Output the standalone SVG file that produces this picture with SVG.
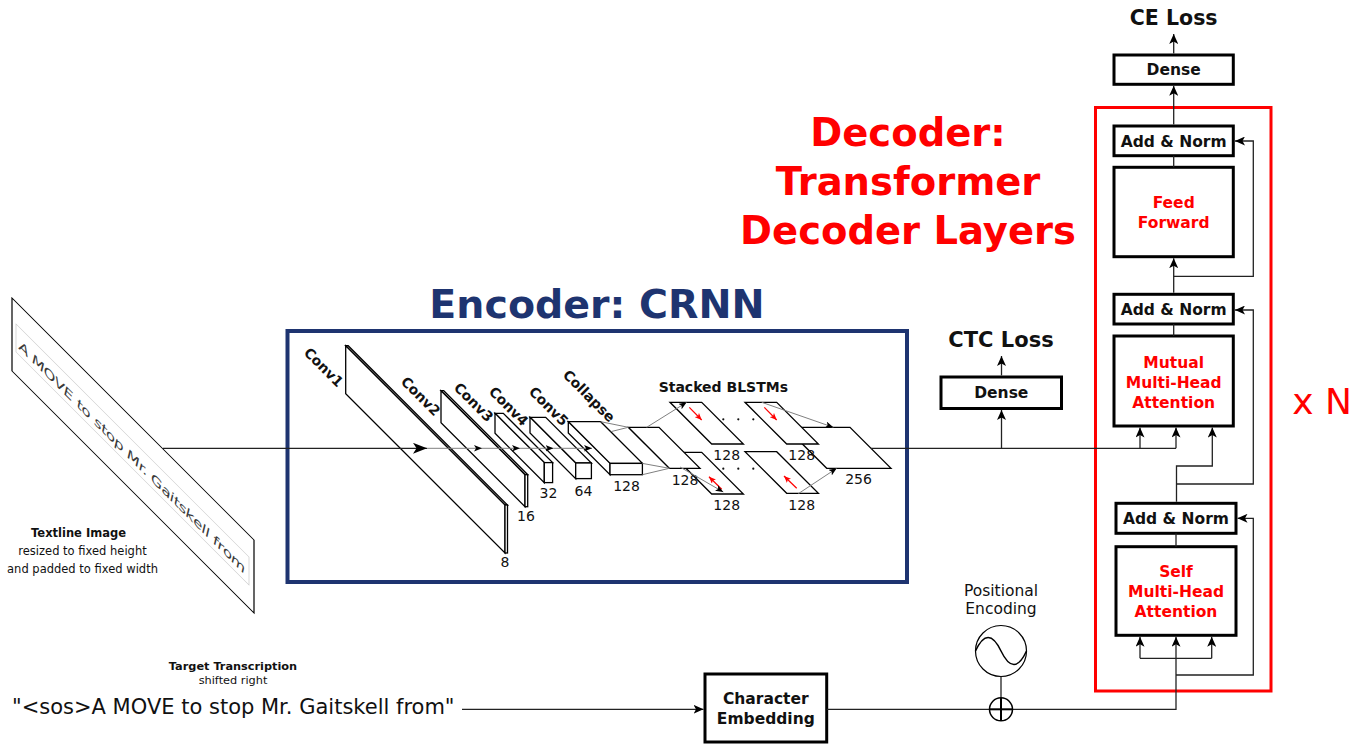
<svg xmlns="http://www.w3.org/2000/svg" width="1366" height="744" viewBox="0 0 1366 744">
<defs>
<style>
text{font-family:"DejaVu Sans","Liberation Sans",sans-serif;fill:#111}
.b{font-weight:bold}
.c{text-anchor:middle}
.box{fill:#fff;stroke:#000;stroke-width:3}
.ln{fill:none;stroke:#222;stroke-width:1.3}
.gl{fill:none;stroke:#808080;stroke-width:1}
.pg{fill:#fff;stroke:#000;stroke-width:1.3;stroke-linejoin:miter}
.num{font-size:14px;text-anchor:middle}
.cl{font-size:14px;font-weight:bold}
.bl{font-size:15.5px;font-weight:bold;text-anchor:middle}
text.red{fill:#ff0000}
.rd{fill:none;stroke:#ff0000;stroke-width:1.2}
</style>
<marker id="m" viewBox="0 0 10 9" refX="10" refY="4.5" markerWidth="10" markerHeight="9" markerUnits="userSpaceOnUse" orient="auto" preserveAspectRatio="none"><path d="M0,0 L10,4.5 L0,9 L2.5,4.5 Z" fill="#000"/></marker>
<marker id="mb" viewBox="0 0 10 9" refX="10" refY="4.5" markerWidth="14" markerHeight="11" markerUnits="userSpaceOnUse" orient="auto" preserveAspectRatio="none"><path d="M0,0 L10,4.5 L0,9 L2.5,4.5 Z" fill="#000"/></marker>
<marker id="ms" viewBox="0 0 10 9" refX="10" refY="4.5" markerWidth="8" markerHeight="6.5" markerUnits="userSpaceOnUse" orient="auto" preserveAspectRatio="none"><path d="M0,0 L10,4.5 L0,9 L2.5,4.5 Z" fill="#000"/></marker>
<marker id="mr" viewBox="0 0 10 9" refX="10" refY="4.5" markerWidth="7" markerHeight="6" markerUnits="userSpaceOnUse" orient="auto" preserveAspectRatio="none"><path d="M0,0 L10,4.5 L0,9 L2.5,4.5 Z" fill="#ff0000"/></marker>
</defs>
<rect x="0" y="0" width="1366" height="744" fill="#fff"/>

<g id="textline-image">
<g transform="translate(12,298) skewY(45)">
<rect x="0" y="0" width="242" height="73" fill="#fff" stroke="#000" stroke-width="1.2"/>
<rect x="4" y="22" width="233" height="28" fill="none" stroke="#c8c8c8" stroke-width="0.7"/>
<text x="7" y="44" font-size="14" font-style="italic" style="fill:#3a3a3a" textLength="226" lengthAdjust="spacing">A MOVE to stop Mr. Gaitskell from</text>
</g>
<text class="b c" x="78.5" y="536.5" font-size="11.5">Textline Image</text>
<text class="c" x="82.5" y="554.5" font-size="11.5" fill="#222">resized to fixed height</text>
<text class="c" x="82.5" y="572.5" font-size="11.5" fill="#222">and padded to fixed width</text>
</g>

<g id="encoder">
<rect x="287.5" y="331" width="619.5" height="251" fill="none" stroke="#1e3470" stroke-width="4"/>
<text class="b c" x="597" y="318" font-size="39.5" style="fill:#1e3470">Encoder: CRNN</text>
</g>

<g id="conv1">
<path class="pg" d="M345.7,345.7 L348.2,345.7 L507.5,505 L505,505 Z"/>
<path class="pg" d="M345.7,345.7 L505,505 L505,553 L345.7,393.7 Z"/>
<rect class="pg" x="505" y="505" width="2.5" height="48"/>
<text class="cl" transform="translate(303,353.5) rotate(45)">Conv1</text>
<text class="num" x="505" y="567">8</text>
</g>
<g id="conv2">
<path class="pg" d="M441,390.7 L443.7,390.7 L527.7,474.7 L525,474.7 Z"/>
<path class="pg" d="M441,390.7 L525,474.7 L525,506.7 L441,422.7 Z"/>
<rect class="pg" x="525" y="474.7" width="2.7" height="32"/>
<text class="cl" transform="translate(400,382.5) rotate(45)">Conv2</text>
<text class="num" x="526" y="521">16</text>
</g>
<g id="conv3">
<path class="pg" d="M495,413.3 L503.3,413.3 L552.6,462.6 L544.3,462.6 Z"/>
<path class="pg" d="M495,413.3 L544.3,462.6 L544.3,482.6 L495,433.3 Z"/>
<rect class="pg" x="544.3" y="462.6" width="8.3" height="20"/>
<text class="cl" transform="translate(453,388.5) rotate(45)">Conv3</text>
<text class="num" x="548.5" y="498">32</text>
</g>
<g id="conv4">
<path class="pg" d="M530,417.3 L545.7,417.3 L591.4,463 L575.7,463 Z"/>
<path class="pg" d="M530,417.3 L575.7,463 L575.7,478.6 L530,432.9 Z"/>
<rect class="pg" x="575.7" y="463" width="15.7" height="15.6"/>
<text class="cl" transform="translate(488,392.5) rotate(45)">Conv4</text>
<text class="num" x="583.5" y="496">64</text>
</g>
<g id="conv5">
<path class="pg" d="M568.3,421.7 L600.7,421.7 L642.4,463.4 L610,463.4 Z"/>
<path class="pg" d="M568.3,421.7 L610,463.4 L610,474.7 L568.3,433 Z"/>
<rect class="pg" x="610" y="463.4" width="32.4" height="11.3"/>
<text class="cl" transform="translate(528,392.5) rotate(45)">Conv5</text>
<text class="num" x="626.5" y="491">128</text>
</g>

<g id="blstm-out">
<path class="pg" d="M785.7,427.3 L850,427.3 L891,468.3 L826.7,468.3 Z"/>
<text class="num" x="858.5" y="484">256</text>
</g>
<g id="blstm-fwd2">
<path class="pg" d="M745,402.3 L776.7,402.3 L818.4,444 L786.7,444 Z"/>
<line class="rd" x1="764.3" y1="407.3" x2="776.7" y2="420" marker-end="url(#mr)"/>
<text class="num" x="801.7" y="460">128</text>
</g>
<g id="blstm-bwd2">
<path class="pg" d="M745,451.7 L776.7,451.7 L818.4,493.3 L786.7,493.3 Z"/>
<line class="rd" x1="796.7" y1="488.3" x2="784" y2="476" marker-end="url(#mr)"/>
<text class="num" x="801.7" y="510">128</text>
</g>
<g id="blstm-bwd1">
<path class="pg" d="M670,452.3 L701.7,452.3 L743.4,494 L711.7,494 Z"/>
<line class="rd" x1="721.7" y1="489.3" x2="709" y2="476.7" marker-end="url(#mr)"/>
<text class="num" x="726.7" y="510">128</text>
</g>
<g id="collapse">
<path class="pg" d="M628.3,427.3 L659,427.3 L700,468.3 L669.3,468.3 Z"/>
<text class="cl" transform="translate(562,375.8) rotate(45)">Collapse</text>
<text class="num" x="685" y="485">128</text>
</g>
<g id="blstm-fwd1">
<path class="pg" d="M670,402.3 L701.7,402.3 L743.4,444 L711.7,444 Z"/>
<line class="rd" x1="689.3" y1="407.3" x2="701.7" y2="420" marker-end="url(#mr)"/>
<text class="num" x="726.7" y="460">128</text>
</g>
<g id="blstm-label">
<text class="b c" x="723.3" y="392" font-size="14">Stacked BLSTMs</text>
<g fill="#111">
<circle cx="723.3" cy="419.3" r="1.1"/><circle cx="738.3" cy="419.3" r="1.1"/><circle cx="753.3" cy="419.3" r="1.1"/>
<circle cx="723.3" cy="468.7" r="1.1"/><circle cx="738.3" cy="468.7" r="1.1"/><circle cx="753.3" cy="468.7" r="1.1"/>
</g>
</g>

<g id="ctc-dense">
<rect class="box" x="941" y="377" width="120.5" height="31.5"/>
<text class="bl" x="1001.3" y="398.2">Dense</text>
<text class="b c" x="1001" y="346.5" font-size="21">CTC Loss</text>
</g>

<g id="decoder">
<rect x="1095.5" y="107.5" width="175.5" height="583.5" fill="none" stroke="#ff0000" stroke-width="3"/>
<text class="b c red" x="908" y="146" font-size="38.5">Decoder:</text>
<text class="b c red" x="908" y="195" font-size="38.5">Transformer</text>
<text class="b c red" x="908" y="244" font-size="38.5">Decoder Layers</text>
<text class="c red" x="1322" y="414" font-size="36">x N</text>
</g>
<g id="ce-dense">
<rect class="box" x="1114" y="55" width="119.3" height="29.3"/>
<text class="bl" x="1173.7" y="75.3">Dense</text>
<text class="b c" x="1173.7" y="25" font-size="20.5">CE Loss</text>
</g>
<g id="add-norm-1">
<rect class="box" x="1114" y="126" width="119.3" height="29.7"/>
<text class="bl" x="1173.7" y="146.5">Add &amp; Norm</text>
</g>
<g id="feed-forward">
<rect class="box" x="1114" y="167.3" width="119.3" height="89.4"/>
<text class="bl red" x="1173.7" y="208">Feed</text>
<text class="bl red" x="1173.7" y="227.5">Forward</text>
</g>
<g id="add-norm-2">
<rect class="box" x="1114" y="294.3" width="119.3" height="29.7"/>
<text class="bl" x="1173.7" y="315">Add &amp; Norm</text>
</g>
<g id="mutual-mha">
<rect class="box" x="1114" y="336" width="119.3" height="90"/>
<text class="bl red" x="1173.7" y="367.5">Mutual</text>
<text class="bl red" x="1173.7" y="387.5">Multi-Head</text>
<text class="bl red" x="1173.7" y="407.5">Attention</text>
</g>
<g id="add-norm-3">
<rect class="box" x="1116" y="503.3" width="120" height="30"/>
<text class="bl" x="1176" y="524">Add &amp; Norm</text>
</g>
<g id="self-mha">
<rect class="box" x="1116" y="546.7" width="120" height="88.6"/>
<text class="bl red" x="1176" y="576.5">Self</text>
<text class="bl red" x="1176" y="596.5">Multi-Head</text>
<text class="bl red" x="1176" y="616.5">Attention</text>
</g>
<g id="char-embedding">
<rect class="box" x="705" y="674" width="121.7" height="68"/>
<text class="bl" x="765.8" y="704">Character</text>
<text class="bl" x="765.8" y="723.5">Embedding</text>
</g>
<g id="target-transcription">
<text class="b c" x="233" y="670" font-size="11.3">Target Transcription</text>
<text class="c" x="233" y="684" font-size="11.3" fill="#222">shifted right</text>
<text x="12" y="714.3" font-size="21" fill="#111">"&lt;sos&gt;A MOVE to stop Mr. Gaitskell from"</text>
</g>
<g id="positional-encoding">
<text class="c" x="1001" y="595.5" font-size="15.5" fill="#222">Positional</text>
<text class="c" x="1001" y="614" font-size="15.5" fill="#222">Encoding</text>
<circle cx="1001" cy="651" r="25.5" fill="#fff" stroke="#000" stroke-width="1.2"/>
<path d="M975.5,651 Q988,624 1001,651 Q1014,678 1026.5,651" fill="none" stroke="#000" stroke-width="1.5"/>
</g>

<g id="connectors">
<line class="ln" x1="163" y1="448.3" x2="427" y2="448.3" marker-end="url(#mb)"/>
<line class="gl" x1="427" y1="448.3" x2="482" y2="448.3" marker-end="url(#ms)"/>
<line class="gl" x1="482" y1="448.3" x2="520" y2="448.3" marker-end="url(#ms)"/>
<line class="gl" x1="520" y1="448.3" x2="553.5" y2="448.3" marker-end="url(#ms)"/>
<line class="gl" x1="553.5" y1="448.3" x2="592" y2="448.3" marker-end="url(#ms)"/>
<line class="gl" x1="600.7" y1="421.7" x2="628.3" y2="427.3"/>
<line class="gl" x1="610.7" y1="431.7" x2="628.3" y2="427.3"/>
<line class="gl" x1="642.4" y1="463.4" x2="669.3" y2="468.3"/>
<line class="gl" x1="642.4" y1="474.7" x2="669.3" y2="468.3"/>
<line class="gl" x1="646.7" y1="427.3" x2="686.7" y2="402.3" marker-end="url(#ms)"/>
<line class="gl" x1="680" y1="467" x2="723.3" y2="492" marker-end="url(#ms)"/>
<line class="gl" x1="761.7" y1="402.3" x2="833.3" y2="427.3" marker-end="url(#ms)"/>
<line class="gl" x1="798.3" y1="493.7" x2="836.7" y2="468.3" marker-end="url(#ms)"/>
<line class="ln" x1="871" y1="448.3" x2="1176" y2="448.3"/>
<line class="ln" x1="1001.5" y1="448.3" x2="1001.5" y2="410" marker-end="url(#m)"/>
<line class="ln" x1="1001.5" y1="375.5" x2="1001.5" y2="356" marker-end="url(#m)"/>
<line class="ln" x1="1140" y1="448.3" x2="1140" y2="427.5" marker-end="url(#m)"/>
<line class="ln" x1="1176" y1="448.3" x2="1176" y2="427.5" marker-end="url(#m)"/>
<polyline class="ln" points="1176.5,501.8 1176.5,466 1212.3,466 1212.3,427.5" marker-end="url(#m)"/>
<polyline class="ln" points="1176.5,484 1253.3,484 1253.3,310 1235,310" marker-end="url(#m)"/>
<line class="ln" x1="1173.7" y1="324" x2="1173.7" y2="336"/>
<line class="ln" x1="1173.7" y1="292.8" x2="1173.7" y2="258.2" marker-end="url(#m)"/>
<polyline class="ln" points="1173.7,276.3 1253.3,276.3 1253.3,141 1235,141" marker-end="url(#m)"/>
<line class="ln" x1="1173.7" y1="155.7" x2="1173.7" y2="167.3"/>
<line class="ln" x1="1173.7" y1="124.5" x2="1173.7" y2="85.8" marker-end="url(#m)"/>
<line class="ln" x1="1173.7" y1="53.5" x2="1173.7" y2="34" marker-end="url(#m)"/>
<line class="ln" x1="1176" y1="533.3" x2="1176" y2="546.7"/>
<polyline class="ln" points="1176,675 1253.3,675 1253.3,518.3 1237.5,518.3" marker-end="url(#m)"/>
<line class="ln" x1="1140" y1="658.3" x2="1211.7" y2="658.3"/>
<line class="ln" x1="1140" y1="658.3" x2="1140" y2="636.8" marker-end="url(#m)"/>
<line class="ln" x1="1211.7" y1="658.3" x2="1211.7" y2="636.8" marker-end="url(#m)"/>
<polyline class="ln" points="826.7,709.3 1176,709.3 1176,636.8" marker-end="url(#m)"/>
<line class="ln" x1="462" y1="709.3" x2="703.5" y2="709.3" marker-end="url(#m)"/>
<line class="ln" x1="1001" y1="676.5" x2="1001" y2="697.8"/>
<circle cx="1001" cy="709.3" r="11.5" fill="#fff" stroke="#000" stroke-width="1.5"/>
<line x1="989.5" y1="709.3" x2="1012.5" y2="709.3" stroke="#000" stroke-width="2"/>
<line x1="1001" y1="697.8" x2="1001" y2="720.8" stroke="#000" stroke-width="2"/>
</g>
</svg>
